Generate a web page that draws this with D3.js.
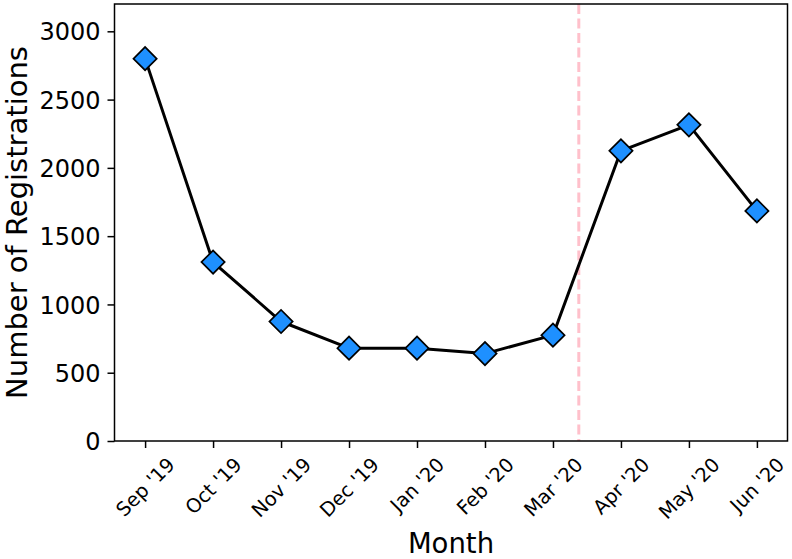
<!DOCTYPE html>
<html>
<head>
<meta charset="utf-8">
<script src="https://cdn.jsdelivr.net/npm/d3@7"></script>
<style>
  body { margin: 0; background: #fff; }
  text { font-family: "DejaVu Sans", sans-serif; fill: #000; }
</style>
</head>
<body>
<script>
// data
var months = ["Sep '19", "Oct '19", "Nov '19", "Dec '19", "Jan '20", "Feb '20",
              "Mar '20", "Apr '20", "May '20", "Jun '20"];
var registrations = [2800, 1310, 875, 680, 680, 640, 775, 2125, 2315, 1685];
var yTicks = [0, 500, 1000, 1500, 2000, 2500, 3000];
var dividerAt = 6.38;   // dashed marker, a bit after Mar '20

var W = 792, H = 559;
var margin = {top: 4, right: 4.5, bottom: 118, left: 114.5},
    width = W - margin.left - margin.right,
    height = H - margin.top - margin.bottom;

var svg = d3.select("body").append("svg")
    .attr("width", W)
    .attr("height", H);

var g = svg.append("g")
    .attr("transform", "translate(" + margin.left + "," + margin.top + ")");

var x = d3.scaleLinear()
    .domain([-0.45, months.length - 1 + 0.45])
    .range([0, width]);

var y = d3.scaleLinear()
    .domain([0, 3200])
    .range([height, 0]);

// y axis
var yAxis = g.append("g")
    .call(d3.axisLeft(y).tickValues(yTicks).tickSize(7).tickPadding(7).tickFormat(d3.format("d")));
yAxis.select(".domain").remove();
yAxis.selectAll("line").attr("stroke", "#000").attr("stroke-width", 1.5);
yAxis.selectAll("text")
    .style("font-size", "24px")
    .attr("dy", "0.36em");

// x axis ticks
var xAxis = g.append("g")
    .attr("transform", "translate(0," + height + ")")
    .call(d3.axisBottom(x).tickValues(d3.range(months.length)).tickSize(7).tickFormat(function(i){ return months[i]; }));
xAxis.select(".domain").remove();
xAxis.selectAll("line").attr("stroke", "#000").attr("stroke-width", 1.5);
xAxis.selectAll("text")
    .style("font-size", "19.5px")
    .attr("text-anchor", "middle")
    .attr("dominant-baseline", "central")
    .attr("y", 0)
    .attr("dy", 0)
    .each(function(d) {
      // rotated 45deg, bbox top lined up under the tick
      var L = this.getComputedTextLength();
      var boxH = (L + 18) / Math.SQRT2;
      var cy = 14 + boxH / 2;
      d3.select(this).attr("transform", "translate(0," + cy + ") rotate(-45)");
    });

// dashed divider
g.append("line")
    .attr("x1", x(dividerAt)).attr("x2", x(dividerAt))
    .attr("y1", 0).attr("y2", height)
    .attr("stroke", "#ffc0cb")
    .attr("stroke-width", 3)
    .attr("stroke-dasharray", "10,4.5");

// line
g.append("path")
    .datum(registrations)
    .attr("fill", "none")
    .attr("stroke", "#000")
    .attr("stroke-width", 3)
    .attr("stroke-linejoin", "round")
    .attr("d", d3.line()
      .x(function(d, i){ return x(i); })
      .y(function(d){ return y(d); }));

// diamond markers
var diamond = d3.symbol().type(d3.symbolSquare).size(270);
g.selectAll(".pt")
    .data(registrations)
    .enter().append("path")
    .attr("class", "pt")
    .attr("d", diamond)
    .attr("transform", function(d, i){ return "translate(" + x(i) + "," + y(d) + ") rotate(45)"; })
    .attr("fill", "#1e90ff")
    .attr("stroke", "#000")
    .attr("stroke-width", 1.7);

// frame
g.append("rect")
    .attr("width", width).attr("height", height)
    .attr("fill", "none")
    .attr("stroke", "#000")
    .attr("stroke-width", 1.5);

// axis labels
svg.append("text")
    .attr("x", margin.left + width / 2)
    .attr("y", 553)
    .attr("text-anchor", "middle")
    .style("font-size", "27.5px")
    .text("Month");

svg.append("text")
    .attr("transform", "translate(27," + (margin.top + height / 2) + ") rotate(-90)")
    .attr("text-anchor", "middle")
    .style("font-size", "29px")
    .text("Number of Registrations");
</script>
</body>
</html>
